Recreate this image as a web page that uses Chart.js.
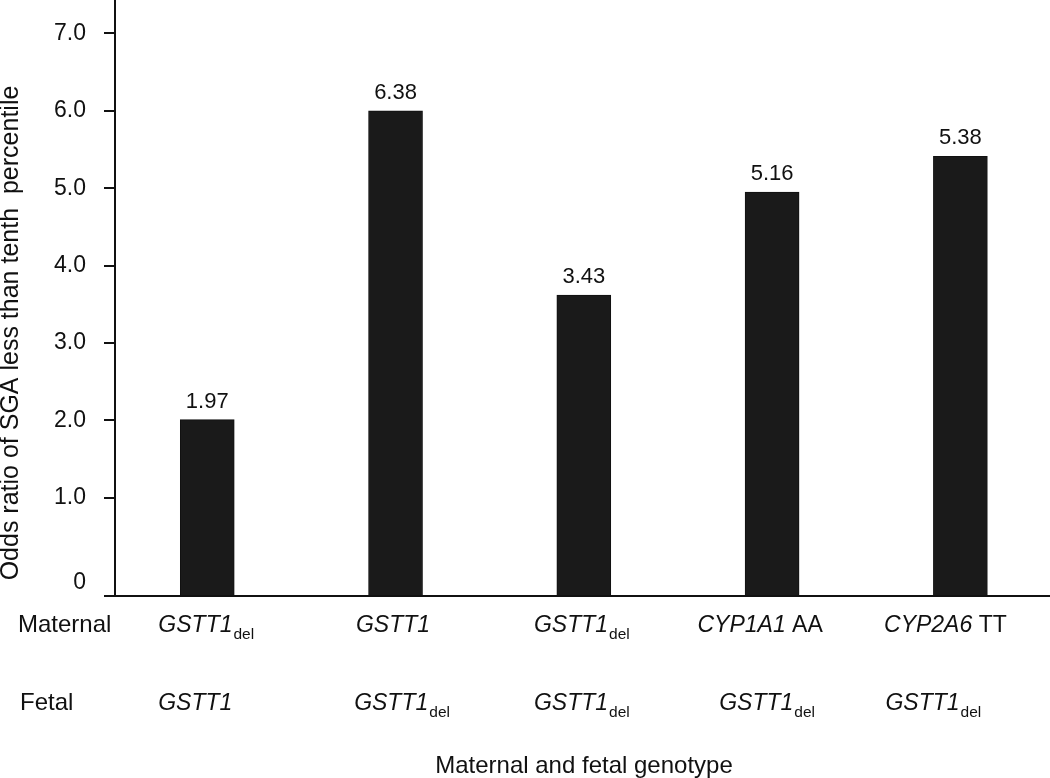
<!DOCTYPE html>
<html>
<head>
<meta charset="utf-8">
<script src="https://cdn.jsdelivr.net/npm/chart.js@4/dist/chart.umd.min.js"></script>
<style>
  html, body { margin: 0; padding: 0; background: #fff; }
  #wrap { width: 1050px; height: 778px; position: relative; }
</style>
</head>
<body>
<div id="wrap"><canvas id="chart"></canvas></div>
<script>
// Bar heights as drawn against the axis, and the odds ratios printed above them
const barHeights = [2.01, 6.0, 3.62, 4.95, 5.41];
const oddsLabels = ['1.97', '6.38', '3.43', '5.16', '5.38'];

// Genotype per column: [italic gene, roman suffix, subscript]
const maternalGeno = [
    ['GSTT1', '', 'del'],
    ['GSTT1', '', ''],
    ['GSTT1', '', 'del'],
    ['CYP1A1', ' AA', ''],
    ['CYP2A6', ' TT', '']
];
const fetalGeno = [
    ['GSTT1', '', ''],
    ['GSTT1', '', 'del'],
    ['GSTT1', '', 'del'],
    ['GSTT1', '', 'del'],
    ['GSTT1', '', 'del']
];
const rowNames = ['Maternal', 'Fetal'];
const yTicks = [1, 2, 3, 4, 5, 6, 7];
const xTitle = 'Maternal and fetal genotype';
const yTitle = 'Odds ratio of SGA less than tenth  percentile';

const FONT = '"Liberation Sans", Arial, sans-serif';
const Y_MIN = -0.267;
const Y_MAX = 7.43;

// Value labels, genotype rows and axis titles
const annotations = {
    id: 'annotations',
    afterDatasetsDraw(chart) {
        const ctx = chart.ctx;
        const x = chart.scales.x;
        const meta = chart.getDatasetMeta(0);
        ctx.save();
        ctx.fillStyle = '#111';

        // numbers above bars
        ctx.font = '22px ' + FONT;
        ctx.textAlign = 'center';
        ctx.textBaseline = 'alphabetic';
        meta.data.forEach((bar, i) => {
            ctx.fillText(oddsLabels[i], bar.x, bar.y - 12);
        });

        // row names
        ctx.textAlign = 'left';
        ctx.font = '24px ' + FONT;
        ctx.fillText(rowNames[0], 18, 632);
        ctx.fillText(rowNames[1], 20, 710);

        const drawGeno = (g, cx, baseline) => {
            const italic = 'italic 23px ' + FONT;
            const roman = '23px ' + FONT;
            const sub = '15.5px ' + FONT;
            ctx.font = italic; const w1 = ctx.measureText(g[0]).width;
            ctx.font = roman; const w2 = ctx.measureText(g[1]).width;
            ctx.font = sub; const w3 = g[2] ? ctx.measureText(g[2]).width + 1 : 0;
            let px = cx - (w1 + w2 + w3) / 2;
            ctx.textAlign = 'left';
            ctx.font = italic; ctx.fillText(g[0], px, baseline); px += w1;
            ctx.font = roman; ctx.fillText(g[1], px, baseline); px += w2;
            if (g[2]) { ctx.font = sub; ctx.fillText(g[2], px + 1, baseline + 7); }
        };
        const matShift = [-1, -2.5, -2, -12, -15];
        const fetShift = [-12, 6.5, -2, -5, -27];
        maternalGeno.forEach((g, i) => drawGeno(g, x.getPixelForValue(i) + matShift[i], 632));
        fetalGeno.forEach((g, i) => drawGeno(g, x.getPixelForValue(i) + fetShift[i], 710));

        // axis titles
        ctx.font = '24px ' + FONT;
        ctx.textAlign = 'center';
        ctx.fillText(xTitle, 584, 773);
        ctx.translate(11, 333);
        ctx.rotate(-Math.PI / 2);
        ctx.textBaseline = 'middle';
        ctx.font = '25px ' + FONT;
        ctx.fillText(yTitle, 0, 0);
        ctx.restore();
    }
};

const chart = new Chart(document.getElementById('chart'), {
    type: 'bar',
    data: {
        datasets: [{
            data: barHeights.map((h, i) => ({ x: i, y: h })),
            backgroundColor: '#1a1a1a',
            borderColor: '#111',
            borderWidth: 1,
            barThickness: 54,
            base: Y_MIN
        }]
    },
    options: {
        responsive: true,
        maintainAspectRatio: false,
        animation: false,
        layout: { padding: 0, autoPadding: false },
        plugins: {
            legend: { display: false },
            tooltip: { enabled: false }
        },
        scales: {
            x: {
                type: 'linear',
                offset: false,
                min: -0.49,
                max: 4.476,
                grid: { display: false, offset: false },
                border: { display: true, color: '#111', width: 2 },
                ticks: { display: false },
                afterFit(s) { s.height = 182; s.paddingLeft = 0; s.paddingRight = 0; }
            },
            y: {
                min: Y_MIN,
                max: Y_MAX,
                afterBuildTicks(s) {
                    s.ticks = [Y_MIN].concat(yTicks).map(v => ({ value: v }));
                },
                grid: {
                    drawOnChartArea: false,
                    drawTicks: true,
                    tickLength: 11,
                    color: '#111',
                    lineWidth: 2
                },
                border: { display: true, color: '#111', width: 2 },
                ticks: {
                    color: '#111',
                    padding: 18,
                    font: { family: FONT, size: 23 },
                    callback: v => (v < 0 ? ['0', ''] : v.toFixed(1))
                },
                afterFit(s) { s.width = 115; s.paddingTop = 0; s.paddingBottom = 0; }
            }
        }
    },
    plugins: [annotations]
});
</script>
</body>
</html>
